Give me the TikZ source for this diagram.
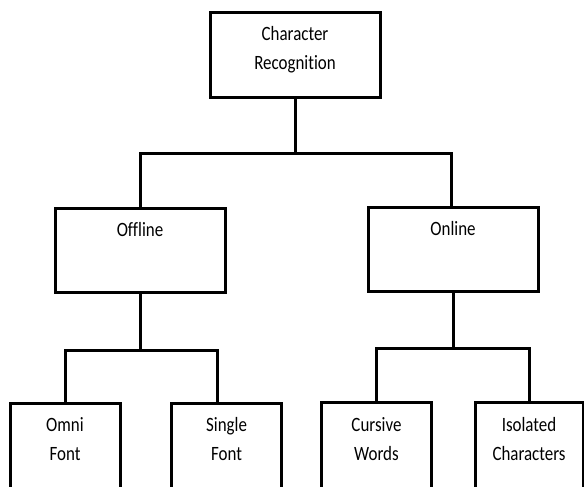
\documentclass[tikz,border=0pt]{standalone}
\usepackage{fontspec}
\setmainfont{Carlito}[Ligatures={NoCommon}]
\usepackage{graphicx}
\usepackage{tikz}
\usetikzlibrary{positioning}

% text sits at the top of the box, not in the middle (and is drawn a bit tall)
\newcommand{\boxtxt}[3]{\scalebox{1}[1.2]{\parbox[c][\dimexpr#1*5/6\relax][t]{#2}{\centering\vspace*{5.4pt}\strut#3}}}

\tikzset{
	box/.style={draw, line width=2.25pt, inner sep=0pt},
	wire/.style={line width=2.25pt},
}

\begin{document}
\begin{tikzpicture}[x=0.75pt, y=-0.75pt, font=\fontsize{12.7}{18.1}\selectfont]
	\path[use as bounding box, clip] (0,0) rectangle (584,486);

	% Level 1
	\node [box] at (295,54.5) (charrec) {\boxtxt{63.75pt}{127.5pt}{Character\\Recognition}};

	% Level 2
	\node [box, below=81pt of charrec, xshift=-116.25pt] (offline) {\boxtxt{63pt}{127.5pt}{Offline}};
	\node [box, below=80.25pt of charrec, xshift=118.5pt] (online) {\boxtxt{63pt}{127.5pt}{Online}};

	% Level 3
	\node [box, below=81pt of offline, xshift=-56.25pt] (omni) {\boxtxt{75pt}{82.5pt}{Omni\\Font}};
	\node [box, below=81pt of offline, xshift=64.9pt] (single) {\boxtxt{75pt}{82pt}{Single\\Font}};
	\node [box, below=81.5pt of online, xshift=-57.4pt] (cursive) {\boxtxt{75pt}{82pt}{Cursive\\Words}};
	\node [box, below=81.5pt of online, xshift=57pt] (isolated) {\boxtxt{75pt}{81pt}{Isolated\\Characters}};

	% Connections
	\draw [wire] (charrec.south) -- ++(0,55) coordinate (split1);
	\draw [wire] (split1) -| (offline.north);
	\draw [wire] (split1) -| ([xshift=-1.5pt]online.north);
	\draw [wire] (offline.south) -- ++(0,57) coordinate (split2);
	\draw [wire] (split2) -| (omni.north);
	\draw [wire] (split2) -| ([xshift=-7pt]single.north);
	\draw [wire] (online.south) -- ++(0,56) coordinate (split3);
	\draw [wire] (split3) -| (cursive.north);
	\draw [wire] (split3) -| (isolated.north);
\end{tikzpicture}
\end{document}
